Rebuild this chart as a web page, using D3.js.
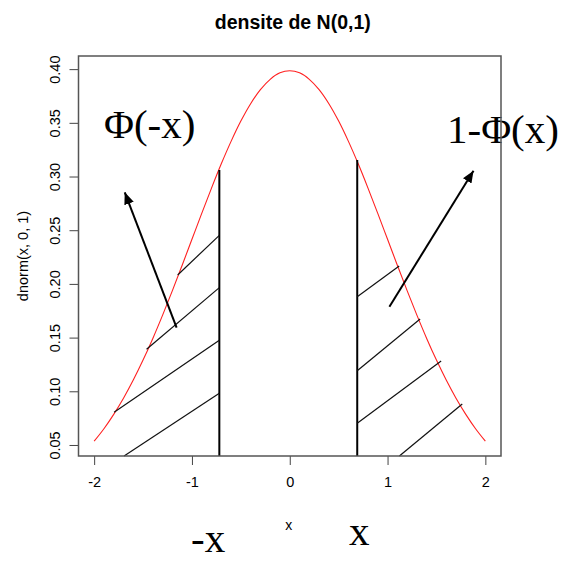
<!DOCTYPE html>
<html>
<head>
<meta charset="utf-8">
<script src="https://cdn.jsdelivr.net/npm/d3@7"></script>
<style>
  body { margin: 0; background: #fff; }
  text { font-family: "Liberation Sans", Arial, sans-serif; }
</style>
</head>
<body>
<script>
// values
var xTicks = [-2, -1, 0, 1, 2];
var yTicks = [0.05, 0.10, 0.15, 0.20, 0.25, 0.30, 0.35, 0.40];

var curveX = [-2.0, -1.9, -1.8, -1.7, -1.6, -1.5, -1.4, -1.3, -1.2, -1.1, -1.0,
  -0.9, -0.8, -0.7, -0.6, -0.5, -0.4, -0.3, -0.2, -0.1, 0.0,
  0.1, 0.2, 0.3, 0.4, 0.5, 0.6, 0.7, 0.8, 0.9, 1.0,
  1.1, 1.2, 1.3, 1.4, 1.5, 1.6, 1.7, 1.8, 1.9, 2.0];
var curveY = [0.0540, 0.0656, 0.0790, 0.0940, 0.1109, 0.1295, 0.1497, 0.1714, 0.1942, 0.2179, 0.2420,
  0.2661, 0.2897, 0.3123, 0.3332, 0.3521, 0.3683, 0.3814, 0.3910, 0.3970, 0.3989,
  0.3970, 0.3910, 0.3814, 0.3683, 0.3521, 0.3332, 0.3123, 0.2897, 0.2661, 0.2420,
  0.2179, 0.1942, 0.1714, 0.1497, 0.1295, 0.1109, 0.0940, 0.0790, 0.0656, 0.0540];

var cutX = [-0.72, 0.69];
var cutTop = [0.3065, 0.3159];

// hatch segments: x1, y1, x2, y2
var hatchLeft = [
  [-1.146, 0.2088, -0.72, 0.2457],
  [-1.464, 0.1396, -0.72, 0.1970],
  [-1.796, 0.0809, -0.72, 0.1480],
  [-1.694, 0.0402, -0.72, 0.0986]
];
var hatchRight = [
  [0.69, 0.1886, 1.119, 0.2171],
  [0.69, 0.1196, 1.333, 0.1678],
  [0.69, 0.0707, 1.548, 0.1287],
  [1.121, 0.0402, 1.764, 0.0886]
];

// arrows: from x, y to x, y
var arrows = [
  [-1.157, 0.1597, -1.687, 0.2858],
  [1.019, 0.1792, 1.879, 0.3059]
];

var title = "densite de N(0,1)";
var xLabel = "x";
var yLabel = "dnorm(x, 0, 1)";

d3.select("body").append("svg")
  .attr("width", 564)
  .attr("height", 561);

var svg = d3.select("svg");

var box = { left: 78.5, right: 501, top: 56, bottom: 456 };

var xScale = d3.scaleLinear().domain([-2.16, 2.16]).range([box.left, box.right]);
var yScale = d3.scaleLinear().domain([0.0402, 0.4127]).range([box.bottom, box.top]);

// title
svg.append("text")
  .attr("x", (box.left + box.right) / 2 + 3)
  .attr("y", 29)
  .attr("text-anchor", "middle")
  .style("font-size", "19.5px")
  .style("font-weight", "bold")
  .text(title);

// axes
var xAxis = svg.append("g")
  .attr("transform", "translate(0," + box.bottom + ")")
  .call(d3.axisBottom(xScale).tickValues(xTicks).tickSize(9).tickPadding(12).tickFormat(function(d) { return String(d); }));
xAxis.select(".domain").remove();
xAxis.selectAll("text").style("font-size", "14.5px").style("font-family", "Liberation Sans, Arial, sans-serif");
xAxis.selectAll("line").attr("stroke", "#444");

var yAxis = svg.append("g")
  .attr("transform", "translate(" + box.left + ",0)")
  .call(d3.axisLeft(yScale).tickValues(yTicks).tickSize(9).tickFormat(d3.format(".2f")));
yAxis.select(".domain").remove();
yAxis.selectAll("line").attr("stroke", "#444");
yAxis.selectAll("text")
  .attr("x", null).attr("dy", null)
  .attr("text-anchor", "middle")
  .attr("transform", function(d) { return "translate(-19," + yScale(d) + ") rotate(-90)"; })
  .attr("y", null)
  .style("font-size", "14.5px")
  .style("font-family", "Liberation Sans, Arial, sans-serif");
yAxis.selectAll(".tick").attr("transform", function() {
  return null;
});
yAxis.selectAll(".tick line").attr("transform", function(d) { return "translate(0," + yScale(d) + ")"; });

// axis labels
svg.append("text")
  .attr("x", (box.left + box.right) / 2 - 1)
  .attr("y", 530)
  .attr("text-anchor", "middle")
  .style("font-size", "14px")
  .text(xLabel);

svg.append("text")
  .attr("transform", "translate(27.5," + (box.top + box.bottom) / 2 + ") rotate(-90)")
  .attr("text-anchor", "middle")
  .style("font-size", "14.5px")
  .text(yLabel);

// density curve
var line = d3.line()
  .x(function(d) { return xScale(d[0]); })
  .y(function(d) { return yScale(d[1]); })
  .curve(d3.curveCatmullRom);

svg.append("path")
  .datum(d3.zip(curveX, curveY))
  .attr("d", line)
  .attr("fill", "none")
  .attr("stroke", "#ff2020")
  .attr("stroke-width", 1.1);

// cut lines
svg.selectAll(".cut")
  .data(d3.zip(cutX, cutTop))
  .enter().append("line")
  .attr("x1", function(d) { return xScale(d[0]); })
  .attr("x2", function(d) { return xScale(d[0]); })
  .attr("y1", yScale(0.0402))
  .attr("y2", function(d) { return yScale(d[1]); })
  .attr("stroke", "#000")
  .attr("stroke-width", 2);

// hatching
svg.selectAll(".hatch")
  .data(hatchLeft.concat(hatchRight))
  .enter().append("line")
  .attr("x1", function(d) { return xScale(d[0]); })
  .attr("y1", function(d) { return yScale(d[1]); })
  .attr("x2", function(d) { return xScale(d[2]); })
  .attr("y2", function(d) { return yScale(d[3]); })
  .attr("stroke", "#111")
  .attr("stroke-width", 1.2);

// arrows
svg.append("defs").append("marker")
  .attr("id", "head")
  .attr("viewBox", "0 0 12 10")
  .attr("refX", 12)
  .attr("refY", 5)
  .attr("markerWidth", 12)
  .attr("markerHeight", 10)
  .attr("markerUnits", "userSpaceOnUse")
  .attr("orient", "auto")
  .append("path")
  .attr("d", "M0,0L12,5L0,10Z")
  .attr("fill", "#000");

svg.selectAll(".arrow")
  .data(arrows)
  .enter().append("line")
  .attr("x1", function(d) { return xScale(d[0]); })
  .attr("y1", function(d) { return yScale(d[1]); })
  .attr("x2", function(d) { return xScale(d[2]); })
  .attr("y2", function(d) { return yScale(d[3]); })
  .attr("stroke", "#000")
  .attr("stroke-width", 2)
  .attr("marker-end", "url(#head)");

// big annotations
var serif = "Liberation Serif, Times New Roman, serif";
svg.append("text").attr("x", 104).attr("y", 138)
  .style("font-family", serif).style("font-size", "41px").text("Φ(-x)");
svg.append("text").attr("x", 447).attr("y", 143)
  .style("font-family", serif).style("font-size", "41px").text("1-Φ(x)");
svg.append("text").attr("x", 191).attr("y", 552)
  .style("font-family", serif).style("font-size", "41px").text("-x");
svg.append("text").attr("x", 349).attr("y", 545)
  .style("font-family", serif).style("font-size", "41px").text("x");

// box
svg.append("rect")
  .attr("x", box.left)
  .attr("y", box.top)
  .attr("width", box.right - box.left)
  .attr("height", box.bottom - box.top)
  .attr("fill", "none")
  .attr("stroke", "#555")
  .attr("stroke-width", 1.5);
</script>
</body>
</html>
